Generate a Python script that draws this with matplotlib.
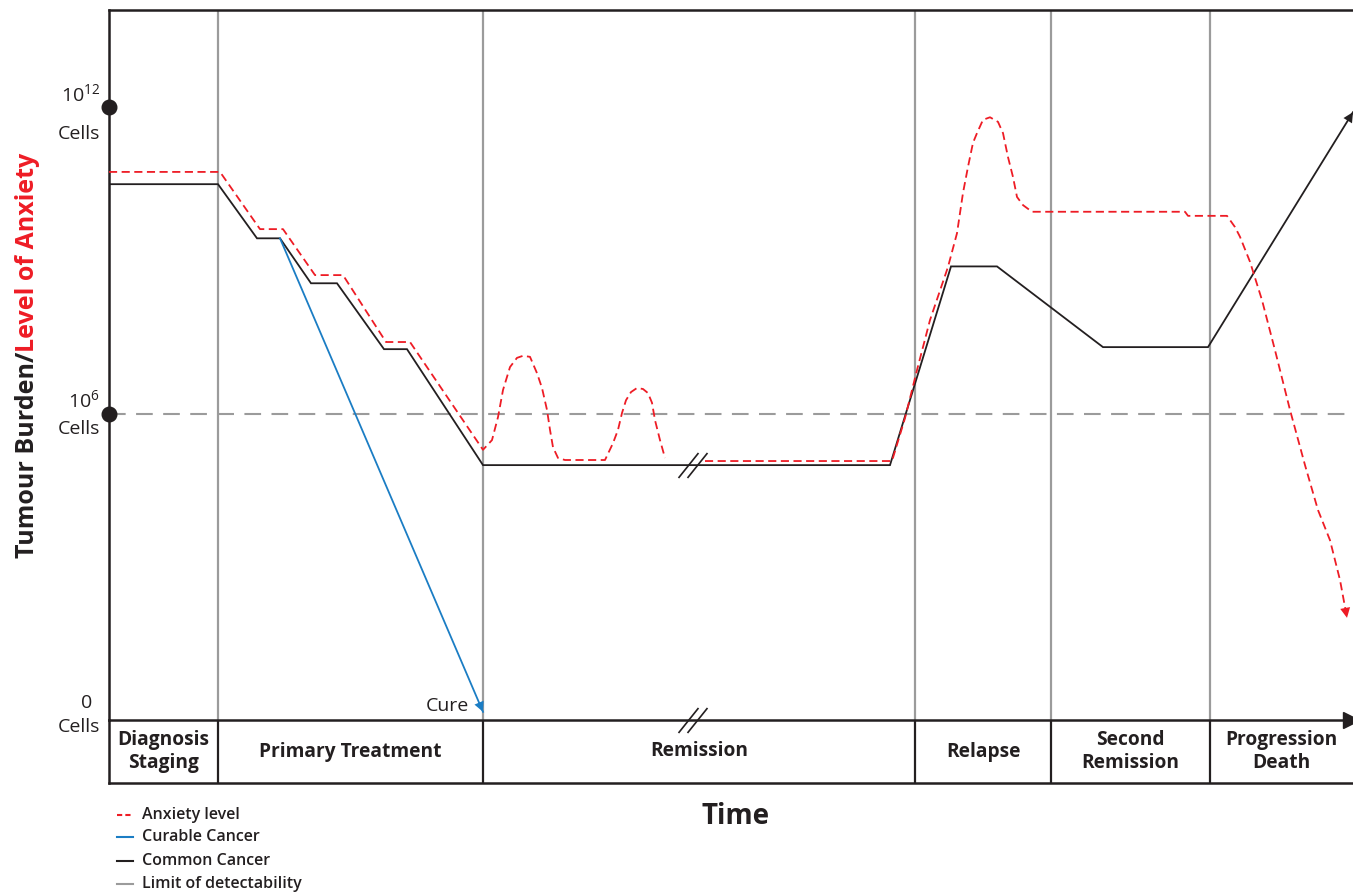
import matplotlib
matplotlib.use("Agg")
import matplotlib.pyplot as plt
from matplotlib.lines import Line2D
from matplotlib.path import Path

# ---------------- data ----------------
# time axis in arbitrary units, level axis in log10(cells) units
phase_bounds = [0, 10.9, 37.4, 80.6, 94.2, 110.1, 124.4]
phase_labels = ["Diagnosis\nStaging", "Primary Treatment", "Remission",
                "Relapse", "Second\nRemission", "Progression\nDeath"]

common_t = [0, 10.9, 14.8, 17.1, 20.2, 22.8, 27.5, 29.8, 37.4, 78.1, 84.2, 88.8, 99.4, 109.9, 124.4]
common_y = [10.49, 10.49, 9.43, 9.43, 8.55, 8.55, 7.26, 7.26, 4.99, 4.99, 8.88, 8.88, 7.30, 7.30, 11.90]

curable_t = [17.1, 37.4]
curable_y = [9.43, 0.16]

anx1_t = [0, 11.1, 15.1, 17.4, 20.6, 23.4, 27.7, 30.1, 37.4, 38.3, 38.9, 39.4, 40.1, 40.8,
          41.4, 42.1, 42.8, 43.3, 43.8, 44.1, 44.4, 44.9, 45.6, 49.6, 50.4, 50.9, 51.3,
          51.7, 52.2, 52.8, 53.4, 53.9, 54.3, 54.6, 55.1, 55.6]
anx1_y = [10.73, 10.73, 9.61, 9.61, 8.71, 8.71, 7.40, 7.40, 5.29, 5.48, 5.93, 6.46, 6.91, 7.09,
          7.13, 7.11, 6.79, 6.50, 6.07, 5.68, 5.34, 5.13, 5.09, 5.09, 5.42, 5.68, 6.01,
          6.26, 6.42, 6.50, 6.48, 6.40, 6.21, 5.87, 5.48, 5.13]

anx2_t = [59.6, 78.3, 79.6, 80.8, 82.1, 83.9, 84.8, 85.4, 85.9, 86.4, 86.8, 87.4, 88.1, 88.9,
          89.4, 89.9, 90.4, 90.8, 91.4, 92.3, 107.6, 107.9, 111.8, 112.6, 113.1, 114.1,
          115.3, 116.6, 118.1, 119.6, 120.9, 122.1, 123.1, 123.8]
anx2_y = [5.07, 5.07, 5.91, 6.85, 7.83, 8.87, 9.53, 10.32, 10.83, 11.30, 11.49, 11.75, 11.80, 11.71,
          11.49, 11.02, 10.63, 10.24, 10.08, 9.95, 9.95, 9.87, 9.87, 9.65, 9.46, 8.97,
          8.22, 7.24, 6.07, 4.99, 4.11, 3.52, 2.74, 2.00]

detect_level = 6
tick_levels = [12, 6, 0]
tick_top = ["10$^{12}$", "10$^{6}$", "0"]
break_t = [57.9, 58.8]

RED = "#ee1c25"
BLUE = "#1b7dc4"
BLACK = "#231f20"
GRAY = "#9b9b9b"
TXT = "#231f20"

plt.rcParams['font.family'] = ['Open Sans', 'DejaVu Sans']
plt.rcParams['mathtext.fontset'] = 'custom'
plt.rcParams['mathtext.rm'] = 'Open Sans'

W, H = 1353, 893
fig = plt.figure(figsize=(W / 100, H / 100), dpi=100)
ax = fig.add_axes([109 / W, 173 / H, 1244 / W, 710 / H])
ax2 = fig.add_axes([109 / W, 110 / H, 1244 / W, 63 / H])
ax2.set_facecolor('none')

XMAX = phase_bounds[-1]
ax.set_xlim(0, XMAX)
ax.set_ylim(0, 13.9)
ax2.set_xlim(0, XMAX)
ax2.set_ylim(0, 1)

for a in (ax, ax2):
    a.set_xticks([])
    a.set_yticks([])
    a.spines['right'].set_visible(False)
    for s in ('left', 'top', 'bottom'):
        a.spines[s].set_color(BLACK)
        a.spines[s].set_linewidth(1.8)
ax2.spines['top'].set_visible(False)

# phase separators
for b in phase_bounds[1:-1]:
    ax.axvline(b, color=GRAY, lw=1.6, zorder=1)
    ax2.axvline(b, color=BLACK, lw=1.6)

# limit of detectability
ax.axhline(detect_level, color=GRAY, lw=1.5, ls=(0, (8, 5)), zorder=1)

# curves
ax.plot(common_t, common_y, color=BLACK, lw=1.3, zorder=3, solid_joinstyle='miter')
ax.annotate('', xy=(common_t[-1], common_y[-1]), xytext=(common_t[-2], common_y[-2]),
            arrowprops=dict(arrowstyle='-|>', color=BLACK, lw=0, mutation_scale=18,
                            shrinkA=0, shrinkB=0), annotation_clip=False, zorder=4)

ax.plot(curable_t, curable_y, color=BLUE, lw=1.3, zorder=3)
ax.annotate('', xy=(curable_t[-1], curable_y[-1]), xytext=(curable_t[-2], curable_y[-2]),
            arrowprops=dict(arrowstyle='-|>', color=BLUE, lw=0, mutation_scale=18,
                            shrinkA=0, shrinkB=0), annotation_clip=False, zorder=4)
ax.text(curable_t[-1] - 1.4, curable_y[-1] + 0.12, "Cure", ha='right', va='center',
        fontsize=14, color=TXT)

for tt, yy in ((anx1_t, anx1_y), (anx2_t, anx2_y)):
    ax.plot(tt, yy, color=RED, lw=1.3, ls=(0, (4.5, 2.5)), zorder=4)
ax.annotate('', xy=(anx2_t[-1], anx2_y[-1]), xytext=(anx2_t[-2], anx2_y[-2]),
            arrowprops=dict(arrowstyle='-|>', color=RED, lw=0, mutation_scale=18,
                            shrinkA=0, shrinkB=0), annotation_clip=False, zorder=5)

# break marks
slash = Path([(-0.8, -1.0), (0.8, 1.0)], [Path.MOVETO, Path.LINETO])
for yb in (common_y[8], 0):
    ax.plot(break_t, [yb] * len(break_t), ls='none', marker=slash, markersize=18,
            markeredgecolor=BLACK, markeredgewidth=1.2, clip_on=False, zorder=6)

# axis arrow
ax.plot([XMAX - 0.2], [0], marker='>', color=BLACK, markersize=12, clip_on=False, zorder=6)

# y level markers + labels
offsets = {12: (-9, 12, -27), 6: (-9, 13, -15), 0: (-9, 17, -7)}
for lvl, top in zip(tick_levels, tick_top):
    dx, up, down = offsets[lvl]
    if lvl != 0:
        ax.plot([0], [lvl], 'o', color=BLACK, markersize=10.5, clip_on=False, zorder=6)
    ax.annotate(top, xy=(0, lvl), xytext=(dx - 8 if lvl == 0 else dx, up),
                textcoords='offset pixels', ha='right', va='center', fontsize=14, color=TXT,
                annotation_clip=False)
    ax.annotate("Cells", xy=(0, lvl), xytext=(dx, down), textcoords='offset pixels',
                ha='right', va='center', fontsize=14, color=TXT, annotation_clip=False)

# phase labels
for i, lab in enumerate(phase_labels):
    cx = (phase_bounds[i] + phase_bounds[i + 1]) / 2
    ax2.text(cx, 0.5, lab, ha='center', va='center', fontsize=13.8, fontweight='bold',
             color=TXT, linespacing=1.25)

# axis titles
fig.text(28 / W, 1 - 352 / H, "Tumour Burden/", rotation=90, rotation_mode='anchor',
         ha='right', va='center', fontsize=18, fontweight='bold', color=BLACK)
fig.text(28 / W, 1 - 352 / H, "Level of Anxiety", rotation=90, rotation_mode='anchor',
         ha='left', va='center', fontsize=18, fontweight='bold', color=RED)
fig.text(736 / W, 1 - 817 / H, "Time", ha='center', va='center', fontsize=20,
         fontweight='bold', color=BLACK)

# legend
leg_items = [("Anxiety level", RED, (0, (2.5, 1.5))), ("Curable Cancer", BLUE, '-'),
             ("Common Cancer", BLACK, '-'), ("Limit of detectability", GRAY, '-')]
leg_y = [815, 837, 861, 884]
for (lab, col, ls), py in zip(leg_items, leg_y):
    fig.add_artist(Line2D([117 / W, 133 / W], [1 - py / H, 1 - py / H], color=col, lw=1.5, ls=ls))
    fig.text(142 / W, 1 - py / H, lab, ha='left', va='center', fontsize=11.5, color=TXT,
             fontweight='semibold')

fig.savefig("out.png", dpi=100)
